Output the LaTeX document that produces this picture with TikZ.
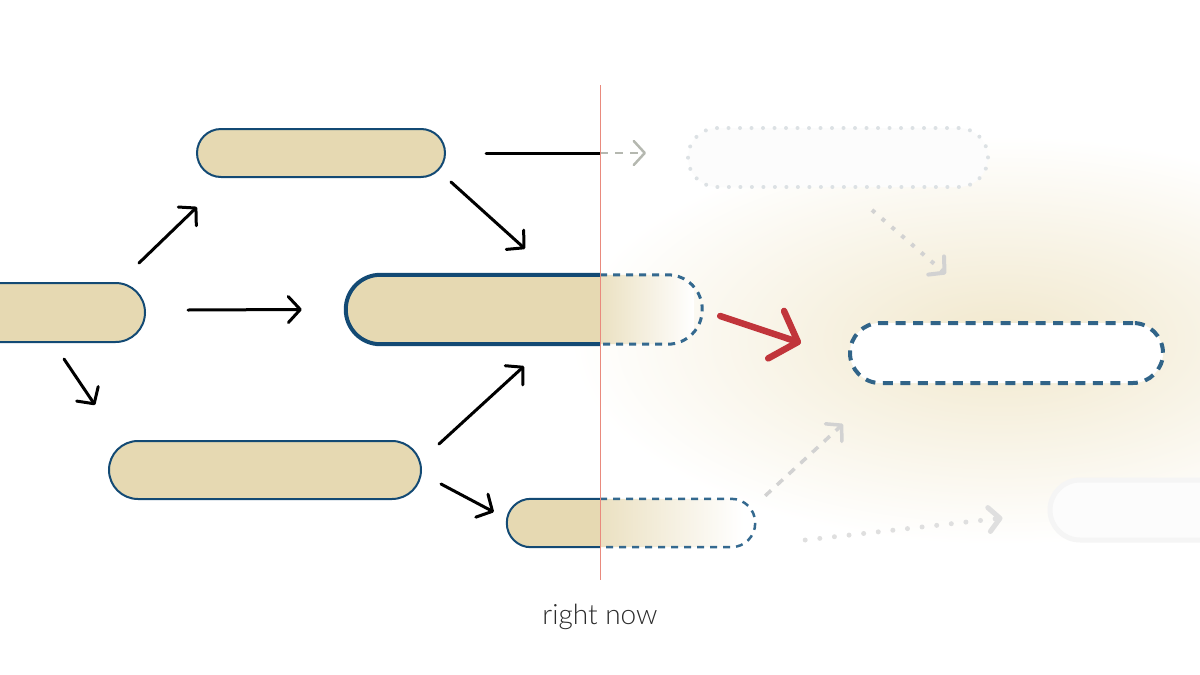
\documentclass[tikz,border=0pt]{standalone}
\usepackage{fontspec}
\setmainfont{Lato Light}
\usetikzlibrary{arrows.meta}
\definecolor{sand}{HTML}{E6D9B2}
\definecolor{navy}{HTML}{134A74}
\definecolor{dashblue}{HTML}{34698F}
\definecolor{glow}{HTML}{F1E8CD}
\definecolor{redarrow}{HTML}{C1353B}
\definecolor{nowred}{HTML}{E98A7D}
\definecolor{ghost}{HTML}{B5B8B0}
\definecolor{mist}{HTML}{DCE1E4}
\definecolor{ink}{HTML}{2B2B2B}
\begin{document}
\begin{tikzpicture}[x=1pt,y=-1pt,
  pill/.style={draw=navy,line width=2pt,fill=sand,inner sep=0pt},
  slot/.style={inner sep=0pt},
  arr/.style={line width=3pt,line cap=round,-{Straight Barb[length=12pt,width=26pt,round]}},
  ghostarr/.style={line width=2.5pt,ghost,-{Straight Barb[length=11pt,width=24pt,round]}}]
\useasboundingbox (0,0) rectangle (1200,675);
\clip (0,0) rectangle (1200,675);
% glow behind the next step
\shade[inner color=glow,outer color=white] (1000,340) ellipse [x radius=430, y radius=205];
\coordinate (nowtop) at (600,85);
\coordinate (nowbot) at (600,580);
% past and present steps
\node[pill,minimum width=185pt,minimum height=59pt,rounded corners=29.5pt] (A) at (52.5,312.5) {};
\node[pill,minimum width=248pt,minimum height=48pt,rounded corners=24pt] (B) at (321,153) {};
\node[pill,minimum width=312pt,minimum height=58pt,rounded corners=29pt] (C) at (265,470) {};
\node[slot,minimum width=356pt,minimum height=69pt] (D) at (524,309.5) {};
\node[slot,minimum width=248pt,minimum height=48pt] (E) at (631,523) {};
% future steps
\node[slot,draw=mist,fill=gray!2,line width=4pt,line cap=round,dash pattern=on 0pt off 11.5pt,
  minimum width=300pt,minimum height=59pt,rounded corners=29.5pt] (F) at (838,157.5) {};
\node[slot,draw=dashblue!95!black,fill=white,line width=4pt,dash pattern=on 10pt off 7.5pt,
  minimum width=313pt,minimum height=60pt,rounded corners=30pt] (G) at (1006.5,353) {};
\node[slot,draw=gray!8,fill=gray!2,line width=5pt,
  minimum width=190pt,minimum height=60pt,rounded corners=30pt] (H) at (1145,510) {};
% D: done part and fading part
\begin{scope}
\clip[rounded corners=34.5pt] (D.north west) rectangle (D.south east);
\fill[sand] (D.north west) rectangle (D.south -| nowtop);
\shade[left color=sand!80!white,right color=white] (D.north -| nowtop) rectangle ([xshift=-8pt]D.south east);
\end{scope}
\draw[navy,line width=4pt,rounded corners=34.5pt] (D.north -| nowtop) -- (D.north west) -- (D.south west) -- (D.south -| nowtop);
\draw[dashblue,line width=3pt,dash pattern=on 7pt off 6pt,rounded corners=34.5pt] (D.north -| nowtop) -- (D.north east) -- (D.south east) -- (D.south -| nowtop);
% E: done part and fading part
\begin{scope}
\clip[rounded corners=24pt] (E.north west) rectangle (E.south east);
\fill[sand] (E.north west) rectangle (E.south -| nowtop);
\shade[left color=sand!80!white,right color=white] (E.north -| nowtop) rectangle ([xshift=-12pt]E.south east);
\end{scope}
\draw[navy,line width=2pt,rounded corners=24pt] (E.north -| nowtop) -- (E.north west) -- (E.south west) -- (E.south -| nowtop);
\draw[dashblue,line width=2.5pt,dash pattern=on 7pt off 6pt,rounded corners=24pt] (E.north -| nowtop) -- (E.north east) -- (E.south east) -- (E.south -| nowtop);
% connectors
\draw[arr] ([xshift=-7pt,yshift=19pt]A.north east) -- ([xshift=1pt,yshift=-29pt]B.south west);
\draw[arr] ([xshift=42pt,yshift=2.5pt]A.east) -- ([xshift=-44pt]D.west);
\draw[arr] ([xshift=11.5pt,yshift=-16pt]A.south) -- ([xshift=-13pt,yshift=35pt]C.north west);
\draw[arr] ([xshift=5pt,yshift=-4pt]B.south east) -- ([xshift=1pt,yshift=26pt]D.north);
\draw[arr] ([xshift=17pt,yshift=-4pt]C.north east) -- ([yshift=-22pt]D.south);
\draw[arr] ([xshift=19pt,yshift=-14pt]C.east) -- ([xshift=-13pt,yshift=11pt]E.west);
\draw[line width=3pt,line cap=round] ([xshift=40pt]B.east) -- (B.east -| nowtop);
\draw[ghostarr,dash pattern=on 8pt off 7pt] (B.east -| nowtop) -- ([xshift=-40pt,yshift=4.5pt]F.west);
\draw[redarrow,line width=6.5pt,line cap=round,-{Straight Barb[length=23pt,width=50pt,round]}]
  ([xshift=18pt,yshift=-6.5pt]D.east) -- ([xshift=-47pt,yshift=10pt]G.west);
\draw[ghostarr,gray!35,line width=4pt,dash pattern=on 4pt off 9pt] ([xshift=34pt,yshift=-21pt]F.south) -- ([xshift=-60.5pt,yshift=47pt]G.north);
\draw[ghostarr,gray!35,line width=3.5pt,dash pattern=on 8pt off 8pt] ([xshift=10pt,yshift=3pt]E.north east) -- ([xshift=-5pt,yshift=-39pt]G.south west);
\draw[ghostarr,gray!25,line width=5pt,line cap=round,dash pattern=on 0pt off 14.7pt] ([xshift=50pt,yshift=-17pt]E.east) -- ([xshift=-45pt,yshift=-8pt]H.west);
% the present
\draw[nowred,line width=1pt] (nowtop) -- (nowbot);
\node[font=\fontsize{28}{30}\selectfont,text=ink] (now) at (600,617) {right now};
\end{tikzpicture}
\end{document}
